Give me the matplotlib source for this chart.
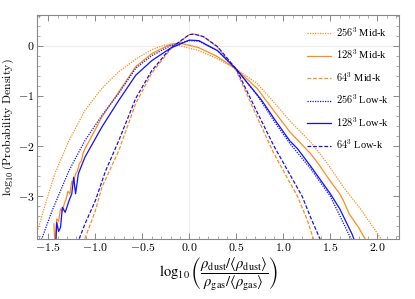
import matplotlib
matplotlib.use("Agg")
import matplotlib.pyplot as plt
from matplotlib.ticker import MultipleLocator, FuncFormatter

plt.rcParams['mathtext.fontset'] = 'cm'
plt.rcParams['font.family'] = ['Liberation Serif', 'DejaVu Serif']

ORANGE = '#FF8C1A'
BLUE = '#1010FF'

# 256^3 Mid-k (orange dotted)
x_256_mid = [-1.64, -1.62, -1.53, -1.43, -1.28, -1.11, -0.93, -0.75, -0.57, -0.40, -0.27,
             -0.10, 0.10, 0.30, 0.50, 0.72, 0.90, 1.07, 1.29, 1.45, 1.64, 1.82, 2.03, 2.09]
y_256_mid = [-3.85, -3.72, -3.15, -2.55, -1.89, -1.29, -0.85, -0.52, -0.27, -0.08, 0.01,
             0.00, -0.10, -0.26, -0.47, -0.75, -1.13, -1.50, -1.92, -2.30, -2.82, -3.25, -3.82, -3.95]

# 128^3 Mid-k (orange solid)
x_128_mid = [-1.44, -1.43, -1.41, -1.39, -1.37, -1.35, -1.33, -1.31, -1.29, -1.27, -1.25,
             -1.23, -1.21, -1.19, -1.17, -1.15, -1.13, -1.11, -1.05, -0.93, -0.75, -0.57,
             -0.40, -0.20, -0.10, 0.10, 0.30, 0.50, 0.72, 0.90, 1.07, 1.29, 1.39, 1.50,
             1.60, 1.64, 1.70, 1.80, 1.87, 1.90]
y_128_mid = [-3.55, -3.95, -3.45, -3.50, -3.25, -3.30, -3.15, -3.05, -2.90, -2.95, -2.70,
             -2.72, -2.55, -2.50, -2.35, -2.30, -2.15, -2.05, -1.85, -1.42, -0.92, -0.42,
             -0.16, 0.03, 0.05, -0.04, -0.22, -0.47, -0.85, -1.30, -1.72, -2.15, -2.40, -2.70,
             -2.95, -3.09, -3.35, -3.62, -3.85, -3.95]

# 64^3 Mid-k (orange dashed)
x_64_mid = [-1.13, -1.12, -1.00, -0.93, -0.75, -0.57, -0.40, -0.20, 0.00, 0.05, 0.15,
            0.30, 0.50, 0.72, 0.90, 1.15, 1.25, 1.32, 1.34]
y_64_mid = [-3.95, -3.89, -3.29, -2.82, -2.09, -1.15, -0.55, -0.07, 0.22, 0.23, 0.18,
            -0.03, -0.50, -1.42, -2.15, -3.00, -3.45, -3.85, -3.95]

# 256^3 Low-k (blue dotted)
x_256_low = [-1.60, -1.57, -1.46, -1.28, -1.11, -0.93, -0.75, -0.57, -0.40, -0.20, 0.00,
             0.10, 0.30, 0.50, 0.72, 0.90, 1.07, 1.29, 1.50, 1.72, 1.74]
y_256_low = [-3.95, -3.85, -3.29, -2.49, -1.89, -1.39, -0.95, -0.45, -0.20, 0.00, 0.10,
             0.09, -0.10, -0.47, -0.98, -1.50, -1.95, -2.45, -3.00, -3.85, -3.95]

# 128^3 Low-k (blue solid)
x_128_low = [-1.42, -1.41, -1.39, -1.37, -1.35, -1.32, -1.28, -1.25, -1.23, -1.21, -1.18,
             -1.11, -0.93, -0.75, -0.57, -0.40, -0.20, 0.00, 0.10, 0.30, 0.50, 0.77,
             0.90, 1.07, 1.15, 1.29, 1.50, 1.60, 1.73, 1.76]
y_128_low = [-3.95, -3.52, -3.70, -3.62, -3.22, -3.32, -3.09, -2.95, -2.62, -2.95, -2.55,
             -2.22, -1.62, -1.09, -0.59, -0.30, -0.05, 0.11, 0.10, -0.10, -0.47, -1.09,
             -1.45, -1.90, -2.05, -2.40, -2.95, -3.25, -3.75, -3.90]

# 64^3 Low-k (blue dashed)
x_64_low = [-1.19, -1.18, -1.11, -1.00, -0.89, -0.75, -0.57, -0.40, -0.20, 0.00, 0.05,
            0.15, 0.30, 0.50, 0.72, 0.90, 1.20, 1.29, 1.39, 1.41]
y_64_low = [-3.95, -3.89, -3.55, -3.09, -2.49, -1.89, -1.05, -0.50, -0.05, 0.22, 0.23,
            0.18, -0.02, -0.47, -1.32, -2.00, -3.00, -3.42, -3.85, -3.95]

labels = [r"$256^3$ Mid-k", r"$128^3$ Mid-k", r"$64^3$ Mid-k",
          r"$256^3$ Low-k", r"$128^3$ Low-k", r"$64^3$ Low-k"]

fig = plt.figure(figsize=(4.15, 2.99), dpi=100)
ax = fig.add_axes([37/415, 1-239/299, (399-37)/415, (239-15)/299])

ax.axhline(0, color='#eeeeee', lw=0.8, zorder=0)
ax.axvline(0, color='#eeeeee', lw=0.8, zorder=0)

lw = 0.9
ax.plot(x_256_mid, y_256_mid, color=ORANGE, ls=(0, (1, 1)), lw=lw, label=labels[0])
ax.plot(x_128_mid, y_128_mid, color=ORANGE, ls='-', lw=lw, label=labels[1])
ax.plot(x_64_mid, y_64_mid, color=ORANGE, ls=(0, (3, 1.5)), lw=lw, label=labels[2])
ax.plot(x_256_low, y_256_low, color=BLUE, ls=(0, (1, 1)), lw=lw, label=labels[3])
ax.plot(x_128_low, y_128_low, color=BLUE, ls='-', lw=lw, label=labels[4])
ax.plot(x_64_low, y_64_low, color=BLUE, ls=(0, (3, 1.5)), lw=lw, label=labels[5])

ax.set_xlim(-1.62, 2.23)
ax.set_ylim(-3.85, 0.61)

ax.xaxis.set_major_locator(MultipleLocator(0.5))
ax.xaxis.set_minor_locator(MultipleLocator(0.1))
ax.yaxis.set_major_locator(MultipleLocator(1))
ax.yaxis.set_minor_locator(MultipleLocator(0.2))
ax.xaxis.set_major_formatter(FuncFormatter(lambda v, p: r"$%.1f$" % v))
ax.yaxis.set_major_formatter(FuncFormatter(lambda v, p: r"$%d$" % round(v)))

for s in ax.spines.values():
    s.set_color('#888888')
    s.set_linewidth(0.8)
ax.tick_params(which='both', direction='in', top=True, right=True, color='#888888',
               labelsize=8.5, pad=2)
ax.tick_params(which='major', length=4, width=0.7)
ax.tick_params(which='minor', length=2, width=0.5)

ax.set_ylabel(r"$\log_{10}(\mathrm{Probability\ Density})$", fontsize=8.5, labelpad=1)
ax.set_xlabel(r"$\log_{10}\left(\dfrac{\rho_{\mathrm{dust}}/\langle\rho_{\mathrm{dust}}\rangle}{\rho_{\mathrm{gas}}/\langle\rho_{\mathrm{gas}}\rangle}\right)$",
              fontsize=10.5, labelpad=1, math_fontfamily='stix')

leg = ax.legend(loc='upper right', frameon=False, fontsize=7.5, handlelength=2.3,
                handletextpad=0.5, labelspacing=0.85, borderaxespad=0.6)

fig.savefig("out.png", dpi=100)
